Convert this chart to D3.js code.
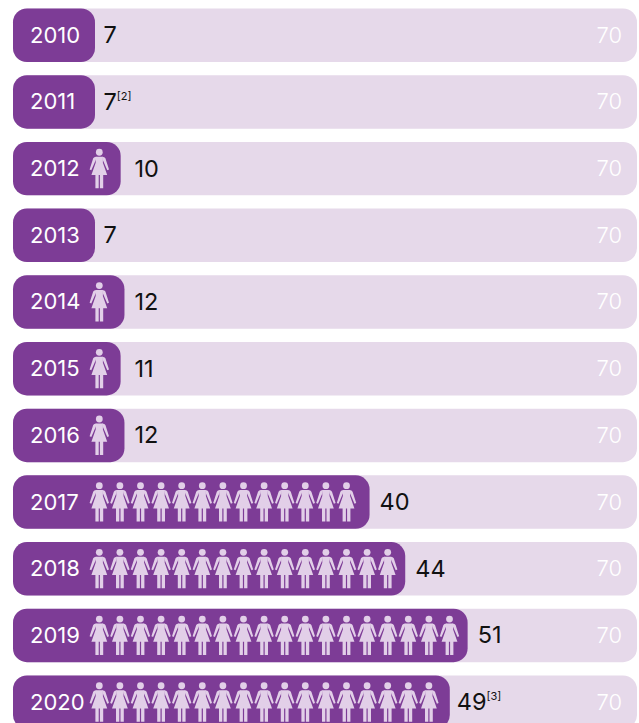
<!DOCTYPE html>
<html>
<head>
<meta charset="utf-8">
<script src="https://cdn.jsdelivr.net/npm/d3@7"></script>
<style>
body { margin: 0; background: #fff; }
text { font-family: "Inter", sans-serif; }
</style>
</head>
<body>
<div id="chart"></div>
<script>
const years = ["2010", "2011", "2012", "2013", "2014", "2015", "2016", "2017", "2018", "2019", "2020"];
const values = [7, 7, 10, 7, 12, 11, 12, 40, 44, 51, 49];
const notes = ["", "[2]", "", "", "", "", "", "", "", "", "[3]"];
const womenIcons = [0, 0, 1, 0, 1, 1, 1, 13, 15, 18, 17];
const maxSeats = 70;

const purple = "#7d3c96";
const lightPurple = "#e6d9ea";
const iconColor = "#e2cfe8";

const width = 639, height = 723;
const icon_step = 20.6;

const svg = d3.select("#chart")
    .append("svg")
    .attr("width", width)
    .attr("height", height)
    .style("display", "block");

const y = d3.scaleBand()
    .domain(years)
    .range([8.5, 8.5 + 720.4])
    .paddingInner(0.198)
    .paddingOuter(0);

const x = d3.scaleLinear()
    .domain([0, maxSeats])
    .range([13, 637]);

// one woman, drawn around 0,0 (about 19 wide, 39 tall)
function drawWoman(g) {
    g.append("circle").attr("cx", 0).attr("cy", -16.4).attr("r", 3.4);
    g.append("path").attr("d",
        "M-3.6,-12 L3.6,-12 L3.6,-6 L7.9,6.3 L3.9,6.3 L3.9,19.5 L0.6,19.5 L0.6,6.3 L-0.6,6.3 L-0.6,19.5 L-3.9,19.5 L-3.9,6.3 L-7.9,6.3 L-3.6,-6 Z");
    g.append("path").attr("d",
        "M3,-12 Q5.4,-12 6.1,-10.4 L9.7,0.8 L8,1.6 L3.4,-9 Z M-3,-12 Q-5.4,-12 -6.1,-10.4 L-9.7,0.8 L-8,1.6 L-3.4,-9 Z");
}

const rows = svg.selectAll("g.row")
    .data(years)
    .enter()
    .append("g")
    .attr("class", "row")
    .attr("transform", function (d) { return "translate(0," + y(d) + ")"; });

rows.append("rect")
    .attr("x", x(0))
    .attr("width", x(maxSeats) - x(0))
    .attr("height", y.bandwidth())
    .attr("rx", 14)
    .attr("fill", lightPurple);

rows.append("text")
    .attr("x", 622)
    .attr("y", y.bandwidth() / 2 + 7.5)
    .attr("text-anchor", "end")
    .attr("font-size", 22)
    .attr("font-weight", 300)
    .attr("fill", "#fff")
    .text(maxSeats);

rows.each(function (d, i) {
    const row = d3.select(this);
    const n = womenIcons[i];

    const bar = row.append("rect")
        .attr("x", x(0))
        .attr("height", y.bandwidth())
        .attr("rx", 14)
        .attr("fill", purple);

    const year_label = row.append("text")
        .attr("x", 30)
        .attr("y", y.bandwidth() / 2 + 7.5)
        .attr("font-size", 22)
        .attr("fill", "#fff")
        .text(d);

    // bar is at least wide enough for the year and its first icon
    const value_w = x(values[i]) - x(0);
    const fit = n > 0 ? 17 + year_label.node().getComputedTextLength() + 41 : 82;
    const bar_w = n == 1 ? Math.max(value_w + 4.5, fit) : Math.max(value_w, fit);
    bar.attr("width", bar_w);

    d3.range(n).forEach(function (k) {
        const g = row.append("g")
            .attr("fill", iconColor)
            .attr("transform", "translate(" + (99.3 + k * icon_step) + "," + (y.bandwidth() / 2) + ")");
        drawWoman(g);
    });

    // number follows the bar, except single icon rows where they line up
    var label_x = x(0) + bar_w + 10;
    if (n == 0) label_x = x(0) + bar_w + 8.5;
    if (n == 1) label_x = 134.5;
    if (n > 1 && notes[i]) label_x -= 3;

    const label = row.append("text")
        .attr("x", label_x)
        .attr("y", y.bandwidth() / 2 + 8)
        .attr("font-size", 23.5)
        .attr("fill", "#111")
        .text(values[i]);

    if (notes[i]) {
        label.append("tspan")
            .attr("font-size", 11)
            .attr("dy", -10)
            .text(notes[i]);
    }
});
</script>
</body>
</html>
